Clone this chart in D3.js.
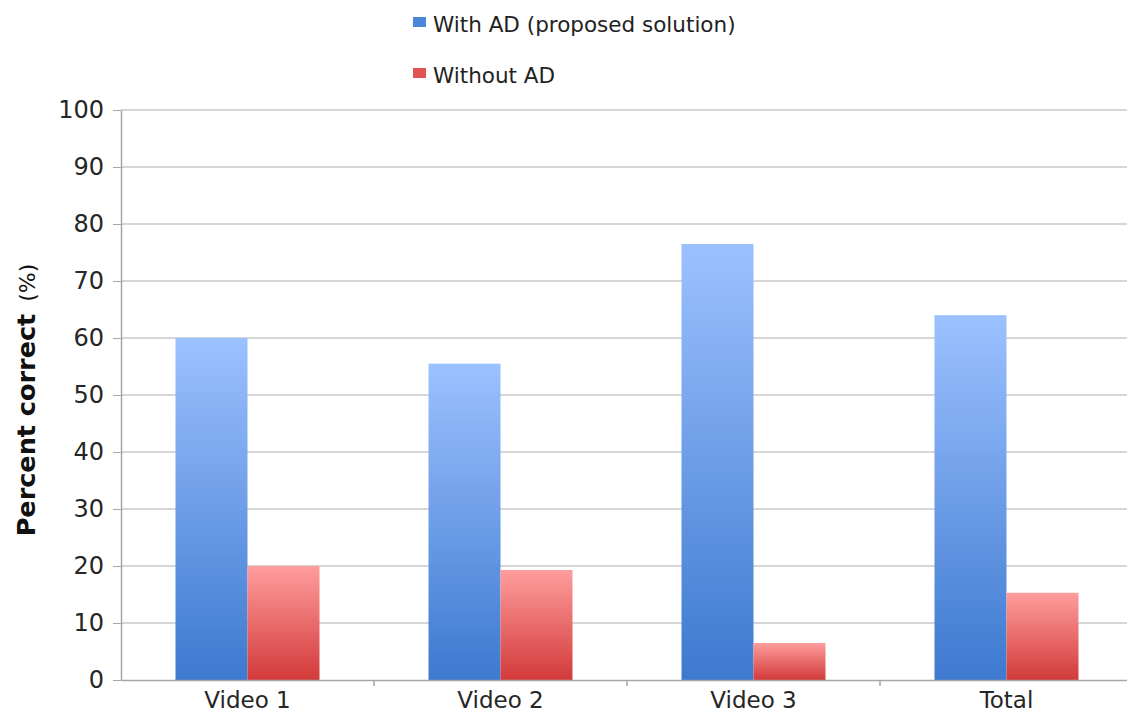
<!DOCTYPE html>
<html>
<head>
<meta charset="utf-8">
<script src="https://cdn.jsdelivr.net/npm/d3@7"></script>
<style>
  body { margin: 0; background: #fff; }
  svg { display: block; font-family: "DejaVu Sans", sans-serif; }
  .axis path, .axis line { stroke: #a6a6a6; }
  .grid line { stroke: #c8c8c8; stroke-width: 1.5; }
</style>
</head>
<body>
<div id="chart"></div>
<script>
// data
var categories = ["Video 1", "Video 2", "Video 3", "Total"];
var seriesNames = ["With AD (proposed solution)", "Without AD"];
var withAD = [60, 55.5, 76.5, 64];
var withoutAD = [20, 19.3, 6.5, 15.3];
var yTicks = [0, 10, 20, 30, 40, 50, 60, 70, 80, 90, 100];

var W = 1127, H = 713;
var margin = {top: 110, right: -6, bottom: 33, left: 121};
var width = W - margin.left - margin.right;
var height = H - margin.top - margin.bottom;

var svg = d3.select('#chart').append('svg')
    .attr('width', W)
    .attr('height', H);

// gradients, one per series, per bar
var defs = svg.append('defs');
var grads = [
  {id: 'gBlue', top: '#9cc1ff', bot: '#3d79cf'},
  {id: 'gRed', top: '#ff9d9d', bot: '#d23a3a'}
];
grads.forEach(function(g){
  var lg = defs.append('linearGradient').attr('id', g.id)
      .attr('x1', 0).attr('y1', 0).attr('x2', 0).attr('y2', 1);
  lg.append('stop').attr('offset', '0%').attr('stop-color', g.top);
  lg.append('stop').attr('offset', '100%').attr('stop-color', g.bot);
});

var x0 = d3.scaleBand().domain(categories).range([0, width]).paddingInner(0).paddingOuter(0);
var x1 = d3.scaleBand().domain([0, 1]).range([54.5, x0.bandwidth() - 54.5]).padding(0);
var y = d3.scaleLinear().domain([0, 100]).range([height, 0]);

var g = svg.append('g').attr('transform', 'translate(' + margin.left + ',' + margin.top + ')');

// gridlines
g.append('g').attr('class', 'grid')
  .selectAll('line').data(yTicks.slice(1)).enter().append('line')
  .attr('x1', 0).attr('x2', width)
  .attr('y1', function(d){ return y(d); })
  .attr('y2', function(d){ return y(d); });

// bars
var rows = categories.map(function(c, i){ return {cat: c, vals: [withAD[i], withoutAD[i]]}; });
var groups = g.append('g').selectAll('g').data(rows).enter().append('g')
  .attr('transform', function(d){ return 'translate(' + x0(d.cat) + ',0)'; });
groups.selectAll('rect')
  .data(function(d){ return d.vals.map(function(v, k){ return {k: k, v: v}; }); })
  .enter().append('rect')
  .attr('x', function(d){ return x1(d.k); })
  .attr('width', x1.bandwidth())
  .attr('y', function(d){ return y(d.v); })
  .attr('height', function(d){ return height - y(d.v); })
  .attr('fill', function(d){ return 'url(#' + grads[d.k].id + ')'; });

// y axis
var yAxis = g.append('g').attr('class', 'axis')
  .call(d3.axisLeft(y).tickValues(yTicks).tickSize(8).tickPadding(9).tickSizeOuter(0));
yAxis.select('.domain').attr('stroke-width', 1.5);
yAxis.selectAll('text').attr('font-size', 24).attr('fill', '#262626')
  .attr('font-family', '"DejaVu Sans", sans-serif');

// x axis
var xAxis = g.append('g').attr('class', 'axis')
  .attr('transform', 'translate(0,' + height + ')')
  .call(d3.axisBottom(x0).tickSize(0).tickPadding(12));
xAxis.select('.domain').attr('stroke-width', 1.5);
xAxis.selectAll('text').attr('font-size', 23).attr('fill', '#262626')
  .attr('font-family', '"DejaVu Sans", sans-serif');
// category separators
xAxis.selectAll('.sep').data(categories).enter().append('line')
  .attr('class', 'sep')
  .attr('x1', function(d){ return x0(d) + x0.bandwidth(); })
  .attr('x2', function(d){ return x0(d) + x0.bandwidth(); })
  .attr('y1', 0).attr('y2', 6)
  .attr('stroke', '#a6a6a6').attr('stroke-width', 1.5);

// y label
var yl = svg.append('text')
  .attr('transform', 'translate(35,400) rotate(-90)')
  .attr('text-anchor', 'middle')
  .attr('font-size', 25.5).attr('fill', '#111');
yl.append('tspan').attr('font-weight', 'bold').text('Percent correct');
yl.append('tspan').attr('dx', 12).attr('font-size', 22).text('(%)');

// legend
var legend = svg.append('g').selectAll('g').data(seriesNames).enter().append('g')
  .attr('transform', function(d, i){ return 'translate(413,' + (17 + i * 51) + ')'; });
legend.append('rect')
  .attr('width', 13).attr('height', 10)
  .attr('fill', function(d, i){ return i === 0 ? '#4a86dc' : '#e05454'; });
legend.append('text')
  .attr('x', 20).attr('y', 15)
  .attr('font-size', 21.5).attr('fill', '#222')
  .text(function(d){ return d; });
</script>
</body>
</html>
